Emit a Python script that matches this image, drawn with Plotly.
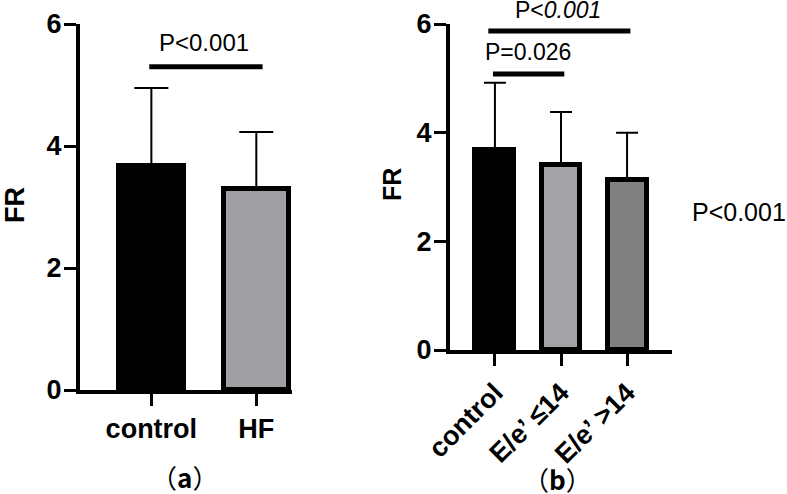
import plotly.graph_objects as go

# panel (a)
groups_a = ["control", "HF"]
means_a = [3.68, 3.29]
sd_a = [1.27, 0.94]
colors_a = ["#000000", "#a0a0a4"]

# panel (b)
groups_b = ["control", "E/e’ ≤14", "E/e’ >14"]
means_b = [3.68, 3.40, 3.13]
sd_b = [1.24, 0.98, 0.87]
colors_b = ["#000000", "#a3a3a7", "#808080"]

y_ticks = [0, 2, 4, 6]

# significance brackets: (x start, x end, level, label, label x, label y)
sig_a = [(-0.02, 1.06, 5.3, "P&lt;0.001", 0.5, 5.69)]
sig_b = [(-0.10, 2.05, 5.87, "P&lt;<i>0.001</i>", 0.95, 6.25),
         (-0.03, 1.05, 5.08, "P=0.026", 0.5, 5.49)]

W, H = 787, 494
FONT = "Liberation Sans, Arial, sans-serif"


def px_x(p):
    return p / W


def px_y(p):
    return 1 - p / H


fig = go.Figure()

fig.add_trace(go.Bar(
    x=list(range(len(groups_a))), y=means_a, width=0.62,
    marker=dict(color=colors_a, line=dict(color="black", width=5)),
    error_y=dict(type="data", symmetric=False, array=sd_a,
                 arrayminus=[0] * len(sd_a), color="black",
                 thickness=2, width=17),
    xaxis="x", yaxis="y", showlegend=False,
))

fig.add_trace(go.Bar(
    x=list(range(len(groups_b))), y=means_b, width=0.59,
    marker=dict(color=colors_b, line=dict(color="black", width=5)),
    error_y=dict(type="data", symmetric=False, array=sd_b,
                 arrayminus=[0] * len(sd_b), color="black",
                 thickness=2, width=11),
    xaxis="x2", yaxis="y2", showlegend=False,
))

axis_common = dict(showline=True, linecolor="black", linewidth=4,
                   ticks="outside", ticklen=12, tickwidth=3,
                   tickcolor="black", showgrid=False, zeroline=False,
                   automargin=False,
                   tickfont=dict(family=FONT, size=27, color="black",
                                 weight="bold"))

fig.update_layout(
    width=W, height=H,
    margin=dict(l=0, r=0, t=0, b=0),
    plot_bgcolor="white", paper_bgcolor="white",
    bargap=0,
    xaxis=dict(domain=[px_x(80), px_x(292)], range=[-0.68, 1.34],
               tickvals=list(range(len(groups_a))), ticktext=groups_a,
               anchor="y", **axis_common),
    yaxis=dict(domain=[px_y(390), px_y(24)], range=[0, 6],
               tickvals=y_ticks, anchor="x", ticklabelstandoff=-3,
               **axis_common),
    xaxis2=dict(domain=[px_x(450), px_x(672)], range=[-0.68, 2.68],
                tickvals=list(range(len(groups_b))), ticktext=groups_b,
                tickangle=-45, anchor="y2", **axis_common),
    yaxis2=dict(domain=[px_y(350), px_y(24)], range=[0, 6],
                tickvals=y_ticks, anchor="x2", ticklabelstandoff=-3,
                **axis_common),
)

# y axis scale in pixels per unit, used to put labels above the axis top
y_px = {"y": (390 - 24) / 6, "y2": (350 - 24) / 6}
y_zero = {"y": 390, "y2": 350}


def label(x, y, text, size, xref="paper", bold=False, angle=0,
          xanchor="center", family=FONT):
    fig.add_annotation(xref=xref, yref="paper", x=x, y=y,
                       xanchor=xanchor, yanchor="middle",
                       text=f"<b>{text}</b>" if bold else text,
                       textangle=angle, showarrow=False,
                       font=dict(family=family, size=size, color="black"))


for xs, ys, sigs, size in [("x", "y", sig_a, 24), ("x2", "y2", sig_b, 23)]:
    for x0, x1, lvl, txt, tx, ty in sigs:
        fig.add_shape(type="line", xref=xs, yref=ys, x0=x0, x1=x1,
                      y0=lvl, y1=lvl, line=dict(color="black", width=5))
        label(tx, px_y(y_zero[ys] - ty * y_px[ys]), txt, size, xref=xs)

# axis titles
label(px_x(15), px_y(205), "FR", 27, bold=True, angle=-90)
label(px_x(392), px_y(185), "FR", 25, bold=True, angle=-90)

# overall p value at right
label(px_x(690), px_y(212), "P&lt;0.001", 25, xanchor="left")

# panel captions
CJK = "Noto Sans CJK SC, Liberation Sans, sans-serif"
label(px_x(184), px_y(476), "（<b>a</b>）", 26, family=CJK)
label(px_x(557), px_y(478), "（<b>b</b>）", 26, family=CJK)

# drop the default 8px page margin so the figure fills the window
fig.write_html("out.html", config={"displayModeBar": False},
               post_script="document.body.style.margin='0';")
